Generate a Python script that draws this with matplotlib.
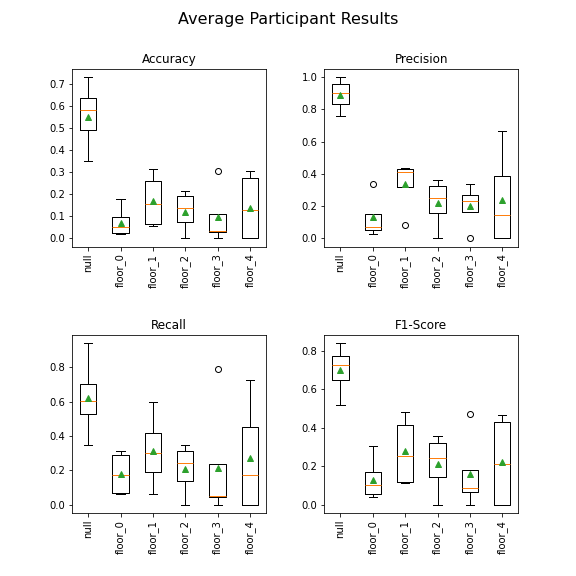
import matplotlib
matplotlib.use("Agg")
import matplotlib.pyplot as plt
from matplotlib.ticker import MultipleLocator

labels = ["null", "floor_0", "floor_1", "floor_2", "floor_3", "floor_4"]

# per metric: whislo, q1, med, q3, whishi, mean, fliers
accuracy = [
    (0.35, 0.49, 0.58, 0.635, 0.73, 0.55, []),
    (0.02, 0.025, 0.05, 0.095, 0.18, 0.07, []),
    (0.055, 0.065, 0.155, 0.26, 0.315, 0.17, []),
    (0.0, 0.075, 0.14, 0.19, 0.215, 0.12, []),
    (0.0, 0.03, 0.035, 0.11, 0.11, 0.095, [0.305]),
    (0.0, 0.0, 0.13, 0.275, 0.305, 0.14, []),
]
precision = [
    (0.76, 0.835, 0.905, 0.96, 1.0, 0.89, []),
    (0.03, 0.05, 0.07, 0.15, 0.15, 0.13, [0.34]),
    (0.32, 0.32, 0.41, 0.43, 0.44, 0.34, [0.085]),
    (0.0, 0.155, 0.25, 0.325, 0.365, 0.22, []),
    (0.165, 0.165, 0.235, 0.27, 0.335, 0.2, [0.0]),
    (0.0, 0.0, 0.145, 0.385, 0.665, 0.24, []),
]
recall = [
    (0.35, 0.525, 0.605, 0.70, 0.94, 0.62, []),
    (0.06, 0.07, 0.17, 0.29, 0.31, 0.18, []),
    (0.06, 0.19, 0.30, 0.415, 0.60, 0.31, []),
    (0.0, 0.135, 0.24, 0.31, 0.345, 0.21, []),
    (0.0, 0.045, 0.05, 0.235, 0.235, 0.215, [0.79]),
    (0.0, 0.0, 0.175, 0.45, 0.725, 0.27, []),
]
f1 = [
    (0.52, 0.65, 0.725, 0.775, 0.84, 0.70, []),
    (0.04, 0.055, 0.10, 0.17, 0.305, 0.13, []),
    (0.11, 0.12, 0.255, 0.415, 0.48, 0.28, []),
    (0.0, 0.145, 0.245, 0.32, 0.355, 0.21, []),
    (0.0, 0.065, 0.085, 0.18, 0.18, 0.16, [0.47]),
    (0.0, 0.0, 0.21, 0.43, 0.465, 0.22, []),
]

metrics = {"Accuracy": accuracy, "Precision": precision, "Recall": recall, "F1-Score": f1}

fig, axes = plt.subplots(2, 2, figsize=(8, 8), dpi=72)
fig.suptitle("Average Participant Results", fontsize=16)

for ax, (name, rows) in zip(axes.flat, metrics.items()):
    stats = []
    for lab, (lo, q1, med, q3, hi, mean, fl) in zip(labels, rows):
        stats.append(dict(label=lab, whislo=lo, q1=q1, med=med, q3=q3,
                          whishi=hi, mean=mean, fliers=fl))
    ax.bxp(stats, showmeans=True)
    ax.set_title(name)
    ax.tick_params(axis="x", labelrotation=90)

axes[0, 0].yaxis.set_major_locator(MultipleLocator(0.1))

plt.subplots_adjust(left=0.125, right=0.9, top=0.88, bottom=0.11, hspace=0.5, wspace=0.3)
plt.savefig("out.png")
